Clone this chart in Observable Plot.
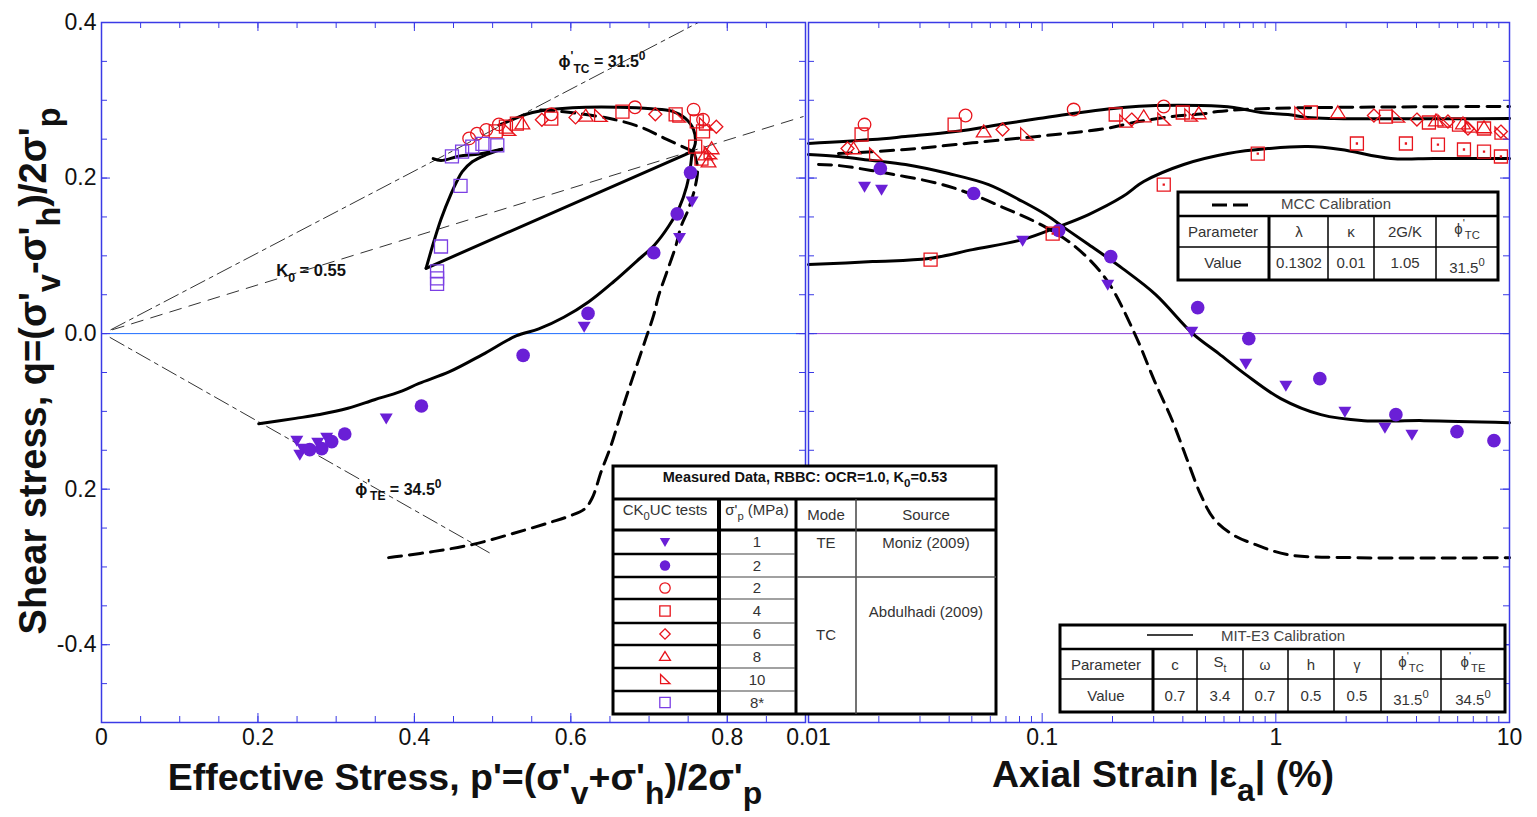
<!DOCTYPE html>
<html>
<head>
<meta charset="utf-8">
<script src="https://cdn.jsdelivr.net/npm/d3@7"></script>
<script src="https://cdn.jsdelivr.net/npm/@observablehq/plot@0.6"></script>
<style>
  body { margin: 0; background: #fff; }
  #wrap { position: relative; width: 1537px; height: 817px; overflow: hidden; background: #fff; }
</style>
</head>
<body>
<div id="wrap"></div>
<script>
// ---------------- axis ticks and labels ----------------
const qTickValues = [0.4, 0.2, 0, -0.2, -0.4];
const qTickLabels = ["0.4", "0.2", "0.0", "0.2", "-0.4"];
const pTickValues = [0, 0.2, 0.4, 0.6, 0.8];
const pTickLabels = ["0", "0.2", "0.4", "0.6", "0.8"];
const strainTickValues = [0.01, 0.1, 1, 10];
const strainTickLabels = ["0.01", "0.1", "1", "10"];

// ---------------- stress paths: p'/σ'p and q/σ'p ----------------
// reference lines through the origin
const tcLineP = [0.012, 0.763], tcLineQ = [0.005, 0.4];
const k0LineP = [0.014, 0.897], k0LineQ = [0.005, 0.279];
const teLineP = [0.011, 0.498], teLineQ = [-0.005, -0.283];

// MIT-E3, compression, normally consolidated
const e3TcP = [0.755, 0.759, 0.757, 0.746, 0.729, 0.703, 0.661, 0.619, 0.585, 0.559, 0.543, 0.530, 0.508];
const e3TcQ = [0.234, 0.244, 0.262, 0.277, 0.286, 0.289, 0.291, 0.291, 0.289, 0.286, 0.282, 0.277, 0.268];
// MIT-E3, test 8*: unloading leg, undrained rise, softening leg
const e3UnloadP = [0.755, 0.415], e3UnloadQ = [0.234, 0.084];
const e3RiseP = [0.415, 0.423, 0.434, 0.447, 0.454, 0.461, 0.474, 0.492, 0.512];
const e3RiseQ = [0.084, 0.112, 0.147, 0.180, 0.195, 0.208, 0.221, 0.230, 0.237];
const e3SoftP = [0.512, 0.483, 0.457, 0.434, 0.424];
const e3SoftQ = [0.237, 0.231, 0.228, 0.2225, 0.225];
// MIT-E3, extension
const e3TeP = [0.755, 0.753, 0.748, 0.739, 0.725, 0.707, 0.684, 0.655, 0.623, 0.591, 0.559, 0.530, 0.487, 0.445, 0.406, 0.381, 0.349, 0.315, 0.279, 0.248, 0.201];
const e3TeQ = [0.234, 0.215, 0.189, 0.163, 0.138, 0.114, 0.093, 0.067, 0.041, 0.021, 0.006, -0.003, -0.027, -0.049, -0.064, -0.075, -0.085, -0.096, -0.104, -0.109, -0.116];
// MCC, compression and extension
const mccTcP = [0.757, 0.722, 0.693, 0.657, 0.610, 0.572, 0.553];
const mccTcQ = [0.234, 0.250, 0.264, 0.275, 0.283, 0.287, 0.288];
const mccTeP = [0.757, 0.762, 0.759, 0.750, 0.741, 0.734, 0.722, 0.712, 0.706, 0.696, 0.683, 0.670, 0.661, 0.651, 0.639, 0.627, 0.617, 0.597, 0.576, 0.526, 0.475, 0.425, 0.375, 0.359];
const mccTeQ = [0.234, 0.2135, 0.189, 0.159, 0.138, 0.112, 0.077, 0.048, 0.024, -0.006, -0.045, -0.084, -0.113, -0.145, -0.177, -0.212, -0.226, -0.235, -0.242, -0.257, -0.271, -0.280, -0.287, -0.289];

// measured paths
const te1P = [0.755, 0.739, 0.617, 0.364, 0.2497, 0.2573, 0.2535, 0.2764, 0.2879];
const te1Q = [0.170, 0.123, 0.009, -0.109, -0.1376, -0.1479, -0.1556, -0.1402, -0.1338];
const te2P = [0.753, 0.736, 0.706, 0.622, 0.539, 0.409, 0.311, 0.2662, 0.2815, 0.2943];
const te2Q = [0.207, 0.154, 0.104, 0.026, -0.028, -0.093, -0.129, -0.1492, -0.1479, -0.1389];
const tc2P = [0.470, 0.480, 0.492, 0.508, 0.575, 0.682, 0.757, 0.769];
const tc2Q = [0.251, 0.257, 0.262, 0.269, 0.282, 0.291, 0.288, 0.275];
const tc4P = [0.504, 0.517, 0.531, 0.575, 0.666, 0.734, 0.761, 0.769, 0.759, 0.767];
const tc4Q = [0.260, 0.266, 0.270, 0.2765, 0.2855, 0.282, 0.273, 0.260, 0.2405, 0.225];
const tc6P = [0.563, 0.606, 0.708, 0.786];
const tc6Q = [0.275, 0.278, 0.282, 0.266];
const tc8P = [0.538, 0.619, 0.780, 0.772, 0.776];
const tc8Q = [0.270, 0.280, 0.238, 0.230, 0.221];
const tc10P = [0.521, 0.638, 0.738, 0.772, 0.778];
const tc10Q = [0.262, 0.280, 0.279, 0.269, 0.232];
const tc8sP = [0.448, 0.461, 0.474, 0.487, 0.506, 0.459, 0.434, 0.429, 0.429, 0.429];
const tc8sQ = [0.228, 0.234, 0.2405, 0.244, 0.242, 0.190, 0.112, 0.080, 0.071, 0.064];

// ---------------- stress-strain: |εa| (%) and q/σ'p ----------------
const e3TcStrain = [0.01, 0.0188, 0.026, 0.0426, 0.0698, 0.0966, 0.135, 0.2212, 0.306, 0.477, 0.661, 0.863, 1.126, 1.371, 1.772, 10];
const e3TcStress = [0.2444, 0.2495, 0.2534, 0.2598, 0.2701, 0.2765, 0.283, 0.2907, 0.2932, 0.2932, 0.2907, 0.2842, 0.2817, 0.2778, 0.2765, 0.2765];
const mccTcStrain = [0.01344, 0.026, 0.0426, 0.0698, 0.1142, 0.187, 0.259, 0.362, 0.501, 0.564, 0.924, 10];
const mccTcStress = [0.2315, 0.2367, 0.2431, 0.2495, 0.256, 0.2637, 0.2727, 0.2791, 0.283, 0.2855, 0.2894, 0.292];
const e3TeStrain = [0.01, 0.01344, 0.0188, 0.026, 0.0398, 0.059, 0.0825, 0.1035, 0.126, 0.158, 0.2212, 0.306, 0.441, 0.570, 0.744, 1.050, 1.558, 2.382, 4.304, 10];
const e3TeStress = [0.2302, 0.2277, 0.2225, 0.2174, 0.2058, 0.1916, 0.1698, 0.1531, 0.135, 0.1145, 0.0836, 0.0502, 0, -0.0257, -0.0527, -0.0836, -0.1042, -0.1119, -0.1119, -0.1145];
const mccTeStrain = [0.01104, 0.01344, 0.022, 0.036, 0.0504, 0.0698, 0.0966, 0.135, 0.187, 0.2466, 0.3033, 0.362, 0.4157, 0.477, 0.5426, 0.6544, 0.821, 1.126, 2.201, 10];
const mccTeStress = [0.2174, 0.2161, 0.2058, 0.1929, 0.1788, 0.1608, 0.1415, 0.1145, 0.0707, 0.0026, -0.0617, -0.1132, -0.1608, -0.2071, -0.2379, -0.2585, -0.2714, -0.2842, -0.2881, -0.2881];
const e3ReStrain = [0.01, 0.0188, 0.0327, 0.0504, 0.0825, 0.1177, 0.158, 0.2212, 0.272, 0.4036, 0.623, 0.924, 1.371, 1.898, 3.109, 4.751, 10];
const e3ReStress = [0.0887, 0.0926, 0.0965, 0.108, 0.1209, 0.1376, 0.1531, 0.1762, 0.1955, 0.2174, 0.2315, 0.2379, 0.2405, 0.2367, 0.2251, 0.2251, 0.2251];

const sTe1Strain = [0.01737, 0.02054, 0.0825, 0.1908, 0.4368, 0.744, 1.104, 1.975, 2.93, 3.823];
const sTe1Stress = [0.1891, 0.1852, 0.1196, 0.063, 0.0026, -0.0386, -0.0669, -0.1003, -0.1209, -0.1299];
const sTe2Strain = [0.0203, 0.0509, 0.1177, 0.1965, 0.463, 0.766, 1.543, 3.265, 5.96, 8.58];
const sTe2Stress = [0.2122, 0.1801, 0.1325, 0.099, 0.0334, -0.0064, -0.0579, -0.1042, -0.126, -0.1376];
const sTc2Strain = [0.01737, 0.047, 0.1364, 0.3314];
const sTc2Stress = [0.2688, 0.2804, 0.2881, 0.292];
const sTc4Strain = [0.01687, 0.0422, 0.2064, 0.3997, 1.412, 2.96, 4.52, 6.08, 7.78];
const sTc4Stress = [0.256, 0.2688, 0.2817, 0.2843, 0.2843, 0.2791, 0.2714, 0.2688, 0.2637];
const sTc6Strain = [0.01469, 0.0677, 0.2417, 2.629, 4.017, 5.453, 6.64, 9.19];
const sTc6Stress = [0.238, 0.2624, 0.2752, 0.2804, 0.2752, 0.2727, 0.2637, 0.2598];
const sTc8Strain = [0.01558, 0.0562, 0.272, 0.468, 1.843, 4.844, 6.32, 7.78];
const sTc8Stress = [0.238, 0.2598, 0.2791, 0.283, 0.2843, 0.2739, 0.2701, 0.265];
const sTc10Strain = [0.01936, 0.0858, 0.2279, 0.3314, 0.4325, 1.279, 3.331, 5.242, 6.84, 9.19];
const sTc10Stress = [0.2302, 0.256, 0.2727, 0.2752, 0.2804, 0.283, 0.2791, 0.2727, 0.2662, 0.2572];
const sTc8sStrain = [0.0333, 0.1109, 0.3314, 0.837, 2.223, 3.603, 4.94, 6.385, 7.78, 9.19];
const sTc8sStress = [0.0952, 0.1286, 0.1916, 0.2315, 0.2444, 0.2444, 0.2431, 0.2367, 0.2341, 0.2277];

// ---------------- styling ----------------
const FONT = '"Liberation Sans", Arial, Helvetica, sans-serif';
const PURPLE = "#6a1fd6";
const RED = "#e8141c";
const FRAME = "#3a3ae6";
const ZERO_LEFT = "#1e6cff";
const ZERO_RIGHT = "#8a3fd9";
const INK = "#111";
const PHI = "\u03D5";

const series = (xs, ys) => xs.map((x, i) => ({x, y: ys[i]}));
const radius = (size) => Math.sqrt(size / Math.PI);
const symbols = {
  downTriangle: {draw(c, s) { const r = radius(s); c.moveTo(-r, -0.75 * r); c.lineTo(r, -0.75 * r); c.lineTo(0, 0.95 * r); c.closePath(); }},
  upTriangle: {draw(c, s) { const r = radius(s); c.moveTo(0, -0.95 * r); c.lineTo(1.05 * r, 0.75 * r); c.lineTo(-1.05 * r, 0.75 * r); c.closePath(); }},
  rightTriangle: {draw(c, s) { const r = radius(s); c.moveTo(-0.85 * r, -0.95 * r); c.lineTo(0.95 * r, 0.8 * r); c.lineTo(-0.85 * r, 0.8 * r); c.closePath(); }},
  diamond: {draw(c, s) { const r = radius(s); c.moveTo(0, -r); c.lineTo(r, 0); c.lineTo(0, r); c.lineTo(-r, 0); c.closePath(); }},
  square: {draw(c, s) { const r = radius(s); c.moveTo(-r, -r); c.lineTo(r, -r); c.lineTo(r, r); c.lineTo(-r, r); c.closePath(); }},
  dottedSquare: {draw(c, s) {
    const r = radius(s);
    c.moveTo(-r, -r); c.lineTo(r, -r); c.lineTo(r, r); c.lineTo(-r, r); c.closePath();
    c.moveTo(-0.5, -0.5); c.lineTo(0.5, -0.5); c.lineTo(0.5, 0.5); c.lineTo(-0.5, 0.5); c.closePath();
  }},
  circle: d3.symbolCircle
};

const solid = {x: "x", y: "y", stroke: "#000", strokeWidth: 3, curve: "catmull-rom"};
const dashed = {...solid, strokeDasharray: "13,8"};
const refLine = (xs, ys, dash) => Plot.line(series(xs, ys), {x: "x", y: "y", stroke: "#333", strokeWidth: 1, strokeDasharray: dash});
const filled = (xs, ys, symbol, r) => Plot.dot(series(xs, ys), {x: "x", y: "y", symbol, r, fill: PURPLE, stroke: "none"});
const open = (xs, ys, symbol, r, color = RED) => Plot.dot(series(xs, ys), {x: "x", y: "y", symbol, r, fill: "none", stroke: color, strokeWidth: 1.3});

// inward tick marks on all four sides of a panel
function frameTicks(xMinor, xMajor, yMinor, yMajor, w, h) {
  const t = {stroke: FRAME, strokeWidth: 1};
  return [
    Plot.tickX(xMinor, {x: d => d, insetTop: h - 6, ...t}),
    Plot.tickX(xMinor, {x: d => d, insetBottom: h - 6, ...t}),
    Plot.tickX(xMajor, {x: d => d, insetTop: h - 9, ...t}),
    Plot.tickX(xMajor, {x: d => d, insetBottom: h - 9, ...t}),
    Plot.tickY(yMinor, {y: d => d, insetRight: w - 6, ...t}),
    Plot.tickY(yMinor, {y: d => d, insetLeft: w - 6, ...t}),
    Plot.tickY(yMajor, {y: d => d, insetRight: w - 9, ...t}),
    Plot.tickY(yMajor, {y: d => d, insetLeft: w - 9, ...t})
  ];
}

const H = 817, MT = 22, MB = 95;
const PH = H - MT - MB;
const qMinor = d3.range(-0.45, 0.4, 0.05).map(v => +v.toFixed(2));
const qLabel = new Map(qTickValues.map((v, i) => [v, qTickLabels[i]]));
const pLabel = new Map(pTickValues.map((v, i) => [v, pTickLabels[i]]));
const sLabel = new Map(strainTickValues.map((v, i) => [v, strainTickLabels[i]]));

const wrap = document.getElementById("wrap");

// ---------------- left panel: effective stress paths ----------------
const LW = 806, LML = 101, LMR = 1;
const pMinor = d3.range(0.05, 0.9, 0.05).map(v => +v.toFixed(2));
const left = Plot.plot({
  width: LW, height: H,
  marginLeft: LML, marginRight: LMR, marginTop: MT, marginBottom: MB,
  x: {domain: [0, 0.9], label: null},
  y: {domain: [-0.5, 0.4], label: null},
  style: {position: "absolute", left: "0px", top: "0px", fontFamily: FONT, fontSize: "23px", color: INK, background: "transparent", overflow: "visible"},
  marks: [
    Plot.ruleY([0], {stroke: ZERO_LEFT, strokeWidth: 1}),
    refLine(tcLineP, tcLineQ, "16,5,4,5"),
    refLine(k0LineP, k0LineQ, "12,8"),
    refLine(teLineP, teLineQ, "16,5,4,5"),
    Plot.line(series(e3TcP, e3TcQ), solid),
    Plot.line(series(e3UnloadP, e3UnloadQ), {...solid, curve: "linear"}),
    Plot.line(series(e3RiseP, e3RiseQ), solid),
    Plot.line(series(e3SoftP, e3SoftQ), solid),
    Plot.line(series(e3TeP, e3TeQ), solid),
    Plot.line(series(mccTcP, mccTcQ), dashed),
    Plot.line(series(mccTeP, mccTeQ), dashed),
    filled(te1P, te1Q, symbols.downTriangle, 6.5),
    filled(te2P, te2Q, symbols.circle, 6.8),
    open(tc2P, tc2Q, symbols.circle, 6.3),
    open(tc4P, tc4Q, symbols.square, 6.5),
    open(tc6P, tc6Q, symbols.diamond, 6.5),
    open(tc8P, tc8Q, symbols.upTriangle, 7),
    open(tc10P, tc10Q, symbols.rightTriangle, 7),
    open(tc8sP, tc8sQ, symbols.square, 6.5, "#7b3fe4"),
    ...frameTicks(pMinor, [0.2, 0.4, 0.6, 0.8], qMinor, [0.2, 0, -0.2, -0.4], LW - LML - LMR, PH),
    Plot.frame({stroke: FRAME, strokeWidth: 1.5}),
    Plot.axisX({ticks: pTickValues, tickFormat: d => pLabel.get(d), tickSize: 0, tickPadding: 6, label: null}),
    Plot.axisY({ticks: qTickValues, tickFormat: d => qLabel.get(d), tickSize: 0, tickPadding: 5, label: null})
  ]
});
wrap.append(left);

// ---------------- right panel: stress-strain ----------------
const RW = 731, RML = 2, RMR = 28;
const sMinor = d3.range(-2, 1).flatMap(k => d3.range(2, 10).map(m => +(m * 10 ** k).toPrecision(3)));
const right = Plot.plot({
  width: RW, height: H,
  marginLeft: RML, marginRight: RMR, marginTop: MT, marginBottom: MB,
  x: {type: "log", domain: [0.01, 10], label: null},
  y: {domain: [-0.5, 0.4], label: null, axis: null},
  style: {position: "absolute", left: "806px", top: "0px", fontFamily: FONT, fontSize: "23px", color: INK, background: "transparent", overflow: "visible"},
  marks: [
    Plot.ruleY([0], {stroke: ZERO_RIGHT, strokeWidth: 1}),
    Plot.line(series(e3TcStrain, e3TcStress), solid),
    Plot.line(series(mccTcStrain, mccTcStress), dashed),
    Plot.line(series(e3TeStrain, e3TeStress), solid),
    Plot.line(series(mccTeStrain, mccTeStress), dashed),
    Plot.line(series(e3ReStrain, e3ReStress), solid),
    filled(sTe1Strain, sTe1Stress, symbols.downTriangle, 6.5),
    filled(sTe2Strain, sTe2Stress, symbols.circle, 6.8),
    open(sTc2Strain, sTc2Stress, symbols.circle, 6.3),
    open(sTc4Strain, sTc4Stress, symbols.square, 6.5),
    open(sTc6Strain, sTc6Stress, symbols.diamond, 6.5),
    open(sTc8Strain, sTc8Stress, symbols.upTriangle, 7),
    open(sTc10Strain, sTc10Stress, symbols.rightTriangle, 7),
    open(sTc8sStrain, sTc8sStress, symbols.dottedSquare, 6.5),
    ...frameTicks(sMinor, strainTickValues, qMinor, [0.2, 0, -0.2, -0.4], RW - RML - RMR, PH),
    Plot.frame({stroke: FRAME, strokeWidth: 1.5}),
    Plot.axisX({ticks: strainTickValues, tickFormat: d => sLabel.get(d), tickSize: 0, tickPadding: 6, label: null})
  ]
});
wrap.append(right);

// ---------------- titles, annotations and tables ----------------
const ov = d3.select(wrap).append("svg")
  .attr("width", 1537).attr("height", H)
  .style("position", "absolute").style("left", "0px").style("top", "0px")
  .attr("font-family", FONT);

function rich(parent, x, y, parts, opt = {}) {
  const {size = 15, weight = "normal", anchor = "middle", fill = "#333", transform = null,
         sub = 0.35, sup = 0.45, scale = 0.75} = opt;
  const t = parent.append("text").attr("x", x).attr("y", y).attr("text-anchor", anchor)
    .attr("font-size", size).attr("font-weight", weight).attr("fill", fill);
  if (transform) t.attr("transform", transform);
  let cur = 0;
  for (const part of parts) {
    const [str, kind] = Array.isArray(part) ? part : [part, null];
    const off = kind === "sub" ? sub * size : kind === "sup" ? -sup * size : 0;
    const ts = t.append("tspan").attr("dy", off - cur).text(str);
    if (kind) ts.attr("font-size", size * scale);
    cur = off;
  }
  return t;
}
const hline = (g, x0, x1, y, w, c = "#000") => g.append("line").attr("x1", x0).attr("x2", x1).attr("y1", y).attr("y2", y).attr("stroke", c).attr("stroke-width", w);
const vline = (g, x, y0, y1, w, c = "#000") => g.append("line").attr("x1", x).attr("x2", x).attr("y1", y0).attr("y2", y1).attr("stroke", c).attr("stroke-width", w);

// axis titles
rich(ov, 0, 0, ["Shear stress, q=(σ'", ["v", "sub"], "-σ'", ["h", "sub"], ")/2σ'", ["p", "sub"]],
  {size: 38, weight: "bold", fill: INK, transform: "translate(46,371) rotate(-90)", sub: 0.38, scale: 0.85});
rich(ov, 465, 790, ["Effective Stress, p'=(σ'", ["v", "sub"], "+σ'", ["h", "sub"], ")/2σ'", ["p", "sub"]],
  {size: 37.5, weight: "bold", fill: INK, sub: 0.38, scale: 0.85});
rich(ov, 1163, 787, ["Axial Strain |ε", ["a", "sub"], "| (%)"],
  {size: 37.5, weight: "bold", fill: INK, sub: 0.38, scale: 0.85});

// line annotations in the stress-path panel
const lx = left.scale("x"), ly = left.scale("y");
rich(ov, lx.apply(0.585), ly.apply(0.342), [PHI, ["'", "sup"], ["TC", "sub"], " = 31.5", ["0", "sup"]],
  {size: 16, weight: "bold", fill: INK, anchor: "start"});
rich(ov, lx.apply(0.224), ly.apply(0.073), ["K", ["0", "sub"], " = 0.55"],
  {size: 16.5, weight: "bold", fill: INK, anchor: "start"});
rich(ov, lx.apply(0.325), ly.apply(-0.208), [PHI, ["'", "sup"], ["TE", "sub"], " = 34.5", ["0", "sup"]],
  {size: 16, weight: "bold", fill: INK, anchor: "start"});

// legend of measured data
const legendRows = [
  {sym: symbols.downTriangle, fill: PURPLE, stroke: "none", sigma: "1"},
  {sym: symbols.circle, fill: PURPLE, stroke: "none", sigma: "2"},
  {sym: symbols.circle, fill: "none", stroke: RED, sigma: "2"},
  {sym: symbols.square, fill: "none", stroke: RED, sigma: "4"},
  {sym: symbols.diamond, fill: "none", stroke: RED, sigma: "6"},
  {sym: symbols.upTriangle, fill: "none", stroke: RED, sigma: "8"},
  {sym: symbols.rightTriangle, fill: "none", stroke: RED, sigma: "10"},
  {sym: symbols.square, fill: "none", stroke: "#7b3fe4", sigma: "8*"}
];
const t1 = ov.append("g");
t1.append("rect").attr("x", 613).attr("y", 466).attr("width", 383).attr("height", 248)
  .attr("fill", "#fff").attr("stroke", "#000").attr("stroke-width", 3);
hline(t1, 613, 996, 499, 3);
hline(t1, 613, 996, 530, 3);
vline(t1, 719, 499, 714, 4);
vline(t1, 796, 499, 714, 3);
vline(t1, 856, 499, 714, 1.5, "#444");
const rowLines = [554, 577, 599, 623, 645, 668, 691];
rowLines.forEach(y => { hline(t1, 613, 717, y, 2.5); hline(t1, 721, 795, y, 1.2, "#444"); });
hline(t1, 797, 996, 577, 1.5, "#555");
rich(t1, 805, 482, ["Measured Data, RBBC: OCR=1.0, K", ["0", "sub"], "=0.53"], {size: 14.5, weight: "bold", fill: INK, scale: 0.8});
rich(t1, 665, 515, ["CK", ["0", "sub"], "UC tests"], {size: 15, scale: 0.75});
rich(t1, 757, 515, ["σ'", ["p", "sub"], " (MPa)"], {size: 15, scale: 0.75});
rich(t1, 826, 520, ["Mode"], {size: 15});
rich(t1, 926, 520, ["Source"], {size: 15});
const rowTops = [530, ...rowLines];
const rowBottoms = [...rowLines, 714];
legendRows.forEach((row, i) => {
  const cy = (rowTops[i] + rowBottoms[i]) / 2;
  t1.append("path").attr("d", d3.symbol(row.sym, Math.PI * 5.2 * 5.2)())
    .attr("transform", `translate(665,${cy})`)
    .attr("fill", row.fill).attr("stroke", row.stroke).attr("stroke-width", 1.3);
  rich(t1, 757, cy + 5, [row.sigma], {size: 15});
});
rich(t1, 826, 548, ["TE"], {size: 15});
rich(t1, 926, 548, ["Moniz (2009)"], {size: 15});
rich(t1, 826, 640, ["TC"], {size: 15});
rich(t1, 926, 617, ["Abdulhadi (2009)"], {size: 15});

// MCC calibration
const t2 = ov.append("g");
t2.append("rect").attr("x", 1178).attr("y", 192).attr("width", 320).attr("height", 88)
  .attr("fill", "#fff").attr("stroke", "#000").attr("stroke-width", 3);
hline(t2, 1178, 1498, 216, 2.5);
hline(t2, 1178, 1498, 247, 1.5);
vline(t2, 1269, 216, 280, 3);
[1328, 1374, 1436].forEach(x => vline(t2, x, 216, 280, 1.5));
hline(t2, 1212, 1227, 205, 3);
hline(t2, 1233, 1248, 205, 3);
rich(t2, 1336, 209, ["MCC Calibration"], {size: 15, fill: "#444"});
rich(t2, 1223, 237, ["Parameter"], {size: 15});
rich(t2, 1299, 237, ["λ"], {size: 15});
rich(t2, 1351, 237, ["κ"], {size: 15});
rich(t2, 1405, 237, ["2G/K"], {size: 15});
rich(t2, 1467, 234, [PHI, ["'", "sup"], ["TC", "sub"]], {size: 15, scale: 0.75});
rich(t2, 1223, 268, ["Value"], {size: 15});
rich(t2, 1299, 268, ["0.1302"], {size: 15});
rich(t2, 1351, 268, ["0.01"], {size: 15});
rich(t2, 1405, 268, ["1.05"], {size: 15});
rich(t2, 1467, 273, ["31.5", ["0", "sup"]], {size: 15, scale: 0.75});

// MIT-E3 calibration
const t3 = ov.append("g");
t3.append("rect").attr("x", 1060).attr("y", 625).attr("width", 445).attr("height", 87)
  .attr("fill", "#fff").attr("stroke", "#000").attr("stroke-width", 3);
hline(t3, 1060, 1505, 649, 2.5);
hline(t3, 1060, 1505, 679, 1.5);
vline(t3, 1153, 649, 712, 3);
[1197, 1243, 1288, 1334, 1381, 1441].forEach(x => vline(t3, x, 649, 712, 1.5));
hline(t3, 1147, 1193, 635, 1.5);
rich(t3, 1283, 641, ["MIT-E3 Calibration"], {size: 15, fill: "#444"});
rich(t3, 1106, 670, ["Parameter"], {size: 15});
rich(t3, 1175, 670, ["c"], {size: 15});
rich(t3, 1220, 667, ["S", ["t", "sub"]], {size: 15, scale: 0.7});
rich(t3, 1265, 670, ["ω"], {size: 14});
rich(t3, 1311, 670, ["h"], {size: 15});
rich(t3, 1357, 670, ["γ"], {size: 14});
rich(t3, 1411, 667, [PHI, ["'", "sup"], ["TC", "sub"]], {size: 15, scale: 0.75});
rich(t3, 1473, 667, [PHI, ["'", "sup"], ["TE", "sub"]], {size: 15, scale: 0.75});
rich(t3, 1106, 701, ["Value"], {size: 15});
[["0.7", 1175], ["3.4", 1220], ["0.7", 1265], ["0.5", 1311], ["0.5", 1357]].forEach(([s, x]) => rich(t3, x, 701, [s], {size: 15}));
rich(t3, 1411, 705, ["31.5", ["0", "sup"]], {size: 15, scale: 0.75});
rich(t3, 1473, 705, ["34.5", ["0", "sup"]], {size: 15, scale: 0.75});
</script>
</body>
</html>
